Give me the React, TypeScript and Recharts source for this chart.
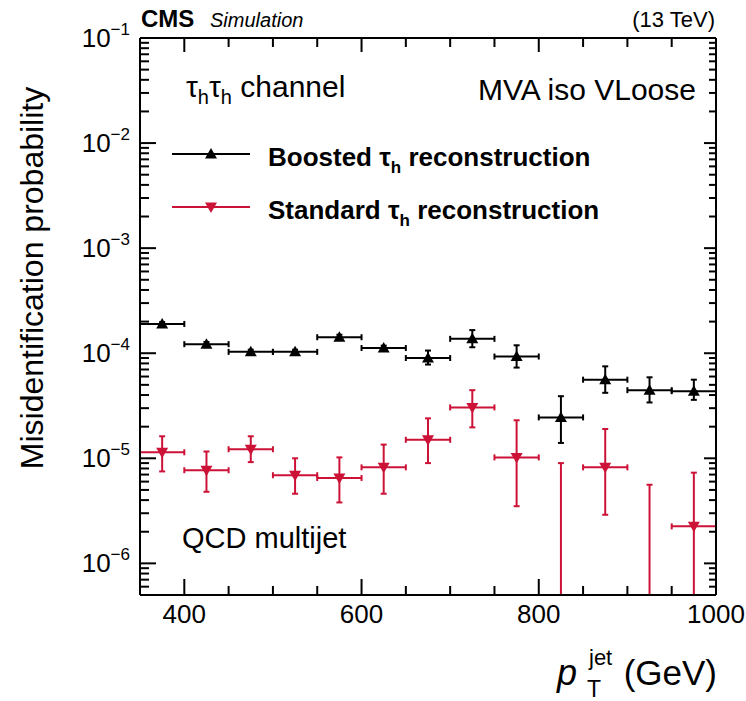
import React from 'react';
import { ComposedChart, Scatter, XAxis, YAxis, ErrorBar } from 'recharts';

// pT(jet) bins, 50 GeV wide
const binCenters = [375, 425, 475, 525, 575, 625, 675, 725, 775, 825, 875, 925, 975];
const binHalfWidth = 25;

// Boosted tau_h reconstruction
const boosted = [1.9e-4, 1.22e-4, 1.03e-4, 1.03e-4, 1.42e-4, 1.12e-4, 0.9e-4, 1.37e-4, 0.93e-4, 2.45e-5, 5.6e-5, 4.45e-5, 4.35e-5];
const boostedLow = [1.82e-4, 1.16e-4, 0.98e-4, 0.98e-4, 1.35e-4, 1.06e-4, 0.78e-4, 1.14e-4, 0.73e-4, 1.4e-5, 4.2e-5, 3.4e-5, 3.6e-5];
const boostedHigh = [1.98e-4, 1.28e-4, 1.08e-4, 1.08e-4, 1.5e-4, 1.18e-4, 1.06e-4, 1.66e-4, 1.19e-4, 3.9e-5, 7.5e-5, 5.9e-5, 5.6e-5];

// Standard tau_h reconstruction (0 = empty bin, marker below the axis)
const standard = [1.14e-5, 7.7e-6, 1.22e-5, 6.9e-6, 6.5e-6, 8.2e-6, 1.5e-5, 3.05e-5, 1.02e-5, 0, 8.2e-6, 0, 2.25e-6];
const standardLow = [7.5e-6, 4.8e-6, 9.2e-6, 4.6e-6, 3.8e-6, 4.6e-6, 9e-6, 1.97e-5, 3.5e-6, 0, 2.9e-6, 0, 0];
const standardHigh = [1.62e-5, 1.16e-5, 1.62e-5, 1.0e-5, 1.02e-5, 1.35e-5, 2.4e-5, 4.45e-5, 2.3e-5, 9e-6, 1.9e-5, 5.6e-6, 7.3e-6];

const yMajorTicks = [1e-6, 1e-5, 1e-4, 1e-3, 1e-2, 1e-1];
const xMajorTicks = [400, 600, 800, 1000];
const xMinorTicks = [450, 500, 550, 650, 700, 750, 850, 900, 950];

const Y_MIN = 5e-7;
const Y_MAX = 0.1;
const FLOOR = 1e-9; // log axis can't take 0, push empty bins far below

const RED = '#cc1236';
const FONT = '"Liberation Sans", Arial, Helvetica, sans-serif';

const yMinorTicks: number[] = [];
for (let e = -7; e <= -2; e++) {
  for (let k = 2; k <= 9; k++) {
    const v = k * Math.pow(10, e);
    if (v > Y_MIN && v < Y_MAX) yMinorTicks.push(v);
  }
}

// error bars that run off the bottom stop at the axis
const buildRows = (vals: number[], lows: number[], highs: number[]) =>
  binCenters.map((x, i) => {
    const y = vals[i] > 0 ? vals[i] : FLOOR;
    const lo = Math.max(lows[i], Y_MIN);
    return { x, y, empty: vals[i] <= 0, xErr: binHalfWidth, yErr: [y - lo, highs[i] - y] };
  });

const boostedRows = buildRows(boosted, boostedLow, boostedHigh);
const standardRows = buildRows(standard, standardLow, standardHigh);

const UpTriangle = (props: any) => {
  const { cx, cy, payload } = props;
  if (payload?.empty) return null;
  return <polygon points={`${cx},${cy - 6} ${cx - 6},${cy + 4.5} ${cx + 6},${cy + 4.5}`} fill="#000" />;
};

const DownTriangle = (props: any) => {
  const { cx, cy, payload } = props;
  if (payload?.empty) return null;
  return <polygon points={`${cx - 6},${cy - 4.5} ${cx + 6},${cy - 4.5} ${cx},${cy + 6}`} fill={RED} />;
};

const NoShape = () => <g />;
const NoLabel = () => <g />;

const YTick = (props: any) => {
  const { x, y, payload } = props;
  const exp = Math.round(Math.log10(payload.value));
  return (
    <text x={x} y={y + 9} textAnchor="end" fontSize={26} fill="#000">
      10<tspan dy={-12} fontSize={17}>{'\u2212' + Math.abs(exp)}</tspan>
    </text>
  );
};

const tickStroke = { stroke: '#000', strokeWidth: 2 };

// inward tick marks on all four sides, ROOT style
const frameX = [
  { id: 'bMaj', orientation: 'bottom', ticks: xMajorTicks, size: 16, line: false },
  { id: 'bMin', orientation: 'bottom', ticks: xMinorTicks, size: 8, line: false },
  { id: 'tMaj', orientation: 'top', ticks: xMajorTicks, size: 14, line: true },
  { id: 'tMin', orientation: 'top', ticks: xMinorTicks, size: 8, line: false },
];
const frameY = [
  { id: 'lMaj', orientation: 'left', ticks: yMajorTicks, size: 16, line: false },
  { id: 'lMin', orientation: 'left', ticks: yMinorTicks, size: 8, line: false },
  { id: 'rMaj', orientation: 'right', ticks: yMajorTicks, size: 12, line: true },
  { id: 'rMin', orientation: 'right', ticks: yMinorTicks, size: 6, line: false },
];

export default function App() {
  return (
    <div style={{ position: 'absolute', left: 0, top: 0, width: 746, height: 701, background: '#fff', fontFamily: FONT }}>
      <ComposedChart width={746} height={701} data={boostedRows} margin={{ top: 38, right: 30, bottom: 46, left: 0 }}>
        <XAxis
          xAxisId="main"
          dataKey="x"
          type="number"
          domain={[350, 1000]}
          allowDataOverflow
          ticks={xMajorTicks}
          interval={0}
          tickLine={false}
          tickSize={0}
          tickMargin={10}
          height={60}
          axisLine={tickStroke}
          tick={{ fontSize: 26, fill: '#000' }}
        />
        {frameX.map((a) => (
          <XAxis
            key={a.id}
            xAxisId={a.id}
            dataKey="x"
            orientation={a.orientation as any}
            mirror
            height={1}
            type="number"
            domain={[350, 1000]}
            allowDataOverflow
            ticks={a.ticks}
            interval={0}
            tick={NoLabel}
            axisLine={a.line ? tickStroke : false}
            tickSize={a.size}
            tickLine={tickStroke}
          />
        ))}

        <YAxis
          yAxisId="main"
          dataKey="y"
          type="number"
          scale="log"
          domain={[Y_MIN, Y_MAX]}
          allowDataOverflow
          ticks={yMajorTicks}
          interval={0}
          width={140}
          tickLine={false}
          tickSize={0}
          tickMargin={10}
          axisLine={tickStroke}
          tick={<YTick />}
        />
        {frameY.map((a) => (
          <YAxis
            key={a.id}
            yAxisId={a.id}
            dataKey="y"
            orientation={a.orientation as any}
            mirror
            width={1}
            type="number"
            scale="log"
            domain={[Y_MIN, Y_MAX]}
            allowDataOverflow
            ticks={a.ticks}
            interval={0}
            tick={NoLabel}
            axisLine={a.line ? tickStroke : false}
            tickSize={a.size}
            tickLine={tickStroke}
          />
        ))}

        {/* empty series so the frame axes get a scale */}
        {frameX.map((a, i) => (
          <Scatter key={'f' + a.id} data={boostedRows} xAxisId={a.id} yAxisId={frameY[i].id} shape={NoShape} legendType="none" isAnimationActive={false} />
        ))}

        <Scatter data={boostedRows} xAxisId="main" yAxisId="main" fill="#000" shape={UpTriangle} isAnimationActive={false}>
          <ErrorBar dataKey="xErr" direction="x" width={3} stroke="#000" strokeWidth={2} isAnimationActive={false} />
          <ErrorBar dataKey="yErr" direction="y" width={3} stroke="#000" strokeWidth={2} isAnimationActive={false} />
        </Scatter>
        <Scatter data={standardRows} xAxisId="main" yAxisId="main" fill={RED} shape={DownTriangle} isAnimationActive={false}>
          <ErrorBar dataKey="xErr" direction="x" width={3} stroke={RED} strokeWidth={2} isAnimationActive={false} />
          <ErrorBar dataKey="yErr" direction="y" width={3} stroke={RED} strokeWidth={2} isAnimationActive={false} />
        </Scatter>
      </ComposedChart>

      <svg width={746} height={701} style={{ position: 'absolute', left: 0, top: 0, pointerEvents: 'none' }} fontFamily={FONT}>
        <text x={141} y={27} fontSize={24} fontWeight="bold">CMS</text>
        <text x={210} y={27} fontSize={20} fontStyle="italic">Simulation</text>
        <text x={715} y={27} fontSize={22} textAnchor="end">(13 TeV)</text>

        <text x={186} y={97} fontSize={30}>
          τ<tspan dy={7} fontSize={20}>h</tspan><tspan dy={-7}>τ</tspan><tspan dy={7} fontSize={20}>h</tspan><tspan dy={-7}> channel</tspan>
        </text>
        <text x={696} y={100} fontSize={30} textAnchor="end">MVA iso VLoose</text>
        <text x={182} y={548} fontSize={29}>QCD multijet</text>

        <line x1={172} x2={250} y1={154} y2={154} stroke="#000" strokeWidth={2} />
        <polygon points="211,148 205,158.5 217,158.5" fill="#000" />
        <text x={268} y={166} fontSize={26} fontWeight="bold">
          Boosted  τ<tspan dy={7} fontSize={17}>h</tspan><tspan dy={-7}> reconstruction</tspan>
        </text>
        <line x1={172} x2={250} y1={207} y2={207} stroke={RED} strokeWidth={2} />
        <polygon points="205,202.5 217,202.5 211,213" fill={RED} />
        <text x={268} y={219} fontSize={26} fontWeight="bold">
          Standard  τ<tspan dy={7} fontSize={17}>h</tspan><tspan dy={-7}> reconstruction</tspan>
        </text>

        <text transform="translate(43,278) rotate(-90)" fontSize={32} textAnchor="middle">Misidentification probability</text>

        <text x={557} y={685} fontSize={36} fontStyle="italic">p</text>
        <text x={589} y={665} fontSize={22}>jet</text>
        <text x={587} y={697} fontSize={23}>T</text>
        <text x={717} y={685} fontSize={35} textAnchor="end">(GeV)</text>
      </svg>
    </div>
  );
}
